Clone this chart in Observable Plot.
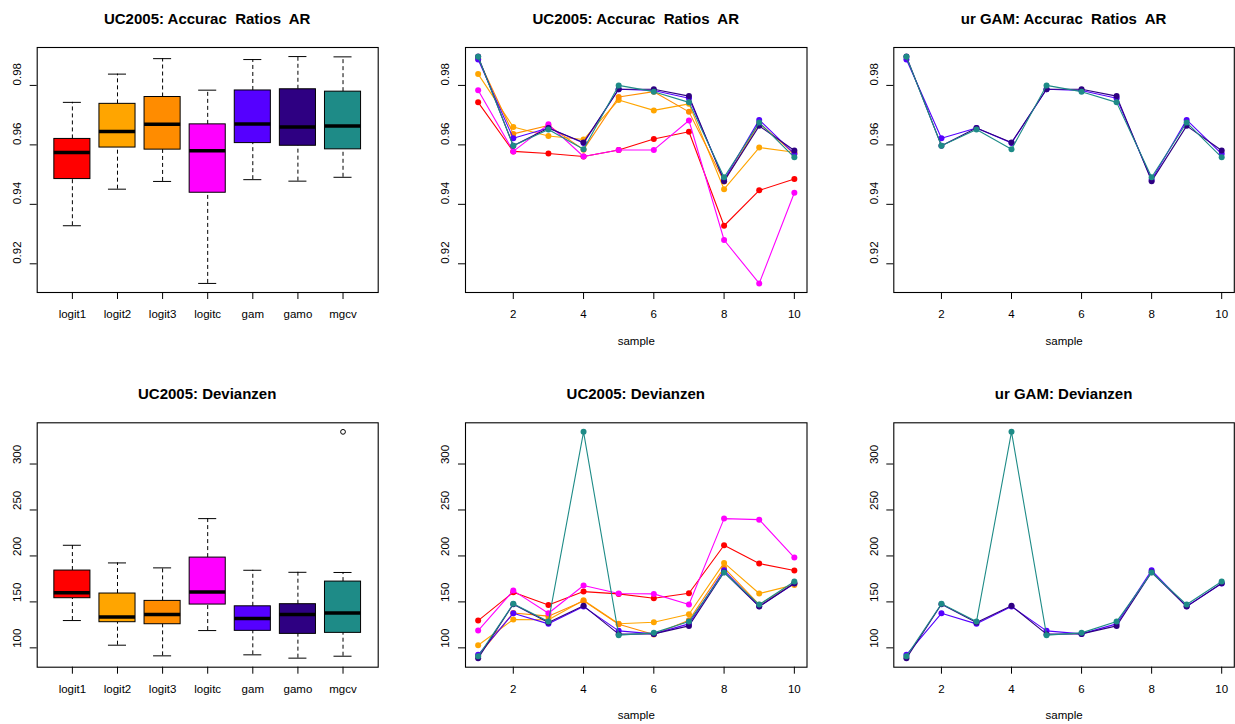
<!DOCTYPE html>
<html>
<head>
<meta charset="utf-8">
<script src="https://cdn.jsdelivr.net/npm/d3@7"></script>
<script src="https://cdn.jsdelivr.net/npm/@observablehq/plot@0.6"></script>
<style>
  body { margin: 0; background: #fff; }
  #wrap { position: relative; width: 1235px; height: 724px; overflow: hidden; background: #fff;
          font-family: "Liberation Sans", Arial, Helvetica, sans-serif; }
  .panel { position: absolute; }
  .title { position: absolute; font-weight: bold; font-size: 15px; white-space: pre; line-height: 18px;
           color: #000; transform: translateX(-50%); }
</style>
</head>
<body>
<div id="wrap"></div>
<script>
// ---------------- data ----------------
const models = ["logit1", "logit2", "logit3", "logitc", "gam", "gamo", "mgcv"];
const modelColors = ["#FF0000", "#FFA500", "#FF8C00", "#FF00FF", "#5500FF", "#2E0082", "#1E8B87"];
const samples = [1, 2, 3, 4, 5, 6, 7, 8, 9, 10];

// Accuracy ratios AR per sample
const arLogit1 = [0.9743, 0.9578, 0.9571, 0.9561, 0.9583, 0.9620, 0.9644, 0.9328, 0.9447, 0.9485];
const arLogit2 = [0.9838, 0.9660, 0.9630, 0.9618, 0.9751, 0.9716, 0.9738, 0.9451, 0.9591, 0.9575];
const arLogit3 = [0.9890, 0.9637, 0.9665, 0.9584, 0.9761, 0.9779, 0.9711, 0.9477, 0.9673, 0.9570];
const arLogitc = [0.9784, 0.9578, 0.9669, 0.9561, 0.9583, 0.9583, 0.9682, 0.9280, 0.9134, 0.9439];
const arGam    = [0.9887, 0.9622, 0.9657, 0.9606, 0.9787, 0.9783, 0.9757, 0.9483, 0.9684, 0.9570];
const arGamo   = [0.9897, 0.9597, 0.9657, 0.9608, 0.9787, 0.9787, 0.9764, 0.9478, 0.9664, 0.9581];
const arMgcv   = [0.9896, 0.9597, 0.9652, 0.9585, 0.9800, 0.9779, 0.9743, 0.9491, 0.9675, 0.9558];

// Devianzen per sample
const devLogit1 = [129.7, 160.5, 146.7, 161.2, 158.7, 154.0, 159.4, 211.6, 191.7, 184.1];
const devLogit2 = [102.9, 130.8, 130.5, 151.8, 126.3, 127.9, 136.6, 192.4, 159.1, 168.5];
const devLogit3 = [91.3, 138.0, 134.5, 151.1, 125.7, 114.5, 130.0, 187.0, 147.0, 170.0];
const devLogitc = [118.8, 162.3, 137.7, 167.8, 159.1, 158.7, 147.1, 240.6, 239.5, 198.2];
const devGam    = [92.4, 137.6, 126.1, 144.9, 118.5, 115.2, 126.1, 184.4, 145.2, 170.0];
const devGamo   = [88.8, 147.5, 127.5, 145.7, 114.9, 115.2, 123.9, 182.2, 144.9, 170.3];
const devMgcv   = [90.9, 148.0, 128.6, 335.0, 113.8, 116.3, 128.6, 182.0, 147.1, 172.1];

const arTicks = [0.92, 0.94, 0.96, 0.98];
const devTicks = [100, 150, 200, 250, 300];
const sampleTicks = [2, 4, 6, 8, 10];

const titles = [
  ["UC2005: Accurac  Ratios  AR", "UC2005: Accurac  Ratios  AR", "ur GAM: Accurac  Ratios  AR"],
  ["UC2005: Devianzen", "UC2005: Devianzen", "ur GAM: Devianzen"]
];
const xLabel = "sample";

// ---------------- helpers ----------------
const arSeries = [arLogit1, arLogit2, arLogit3, arLogitc, arGam, arGamo, arMgcv];
const devSeries = [devLogit1, devLogit2, devLogit3, devLogitc, devGam, devGamo, devMgcv];

function rows(series) {
  const out = [];
  series.forEach((vals, m) => vals.forEach((v, i) => out.push({model: models[m], sample: samples[i], value: v})));
  return out;
}
function fivenum(v) {
  const x = [...v].sort((a, b) => a - b), n = x.length;
  const n4 = Math.floor((n + 3) / 2) / 2;
  return [1, n4, (n + 1) / 2, n + 1 - n4, n].map(k => 0.5 * (x[Math.floor(k) - 1] + x[Math.ceil(k) - 1]));
}
function boxStats(series) {
  return series.map((vals, m) => {
    const f = fivenum(vals), iqr = f[3] - f[1];
    const lo = f[1] - 1.5 * iqr, hi = f[3] + 1.5 * iqr;
    const inside = vals.filter(v => v >= lo && v <= hi);
    return {
      i: m + 1, model: models[m], color: modelColors[m],
      q1: f[1], med: f[2], q3: f[3],
      wlo: d3.min(inside), whi: d3.max(inside),
      out: vals.filter(v => v < lo || v > hi)
    };
  });
}
function rpad([a, b]) { const p = 0.04 * (b - a); return [a - p, b + p]; }

const fontFamily = '"Liberation Sans", Arial, Helvetica, sans-serif';
const cols = [
  {left: 0,   width: 412, mL: 36.7, mR: 34.3},
  {left: 412, width: 411, mL: 53,   mR: 16.5},
  {left: 823, width: 412, mL: 70.3, mR: 1.2}
];
const rowsGeo = [
  {top: 0,   height: 362, mT: 47,   mB: 70},
  {top: 362, height: 362, mT: 60.3, mB: 57.3}
];

const wrap = document.getElementById("wrap");

function panel(r, c, {xDomain, yDomain, xTicks, xFormat, yTicks, yFormat, marks, withXLabel}) {
  const col = cols[c], row = rowsGeo[r];
  const chart = Plot.plot({
    width: col.width, height: row.height,
    marginLeft: col.mL, marginRight: col.mR, marginTop: row.mT, marginBottom: row.mB,
    x: {type: "linear", domain: xDomain},
    y: {type: "linear", domain: yDomain},
    style: {fontFamily, fontSize: "11.5px", background: "transparent", color: "#000", overflow: "visible"},
    marks: [
      ...marks,
      Plot.frame({stroke: "#000", strokeWidth: 1.1}),
      Plot.axisX({ticks: xTicks, tickFormat: xFormat, tickSize: 7, tickPadding: 10.5, label: null, anchor: "bottom", stroke: "#000", fill: "#000"}),
      Plot.axisY({ticks: yTicks, tickFormat: () => "", tickSize: 7, label: null, anchor: "left", stroke: "#000"}),
      Plot.text(yTicks, {y: d => d, text: yFormat, frameAnchor: "left", dx: -19.7, rotate: -90, fill: "#000"}),
      withXLabel ? Plot.text([xLabel], {text: d => d, frameAnchor: "bottom", dy: 52, fill: "#000"}) : null
    ]
  });
  chart.classList.add("panel");
  chart.style.left = col.left + "px";
  chart.style.top = row.top + "px";
  wrap.appendChild(chart);
  const t = document.createElement("div");
  t.className = "title";
  t.textContent = titles[r][c];
  t.style.left = (col.left + col.mL + (col.width - col.mL - col.mR) / 2) + "px";
  t.style.top = (r === 0 ? 10 : 385) + "px";
  wrap.appendChild(t);
}

function boxMarks(stats) {
  const ms = [];
  ms.push(Plot.ruleX(stats, {x: "i", y1: "q3", y2: "whi", stroke: "#000", strokeDasharray: "4,3"}));
  ms.push(Plot.ruleX(stats, {x: "i", y1: "wlo", y2: "q1", stroke: "#000", strokeDasharray: "4,3"}));
  ms.push(Plot.ruleY(stats, {y: "whi", x1: d => d.i - 0.2, x2: d => d.i + 0.2, stroke: "#000"}));
  ms.push(Plot.ruleY(stats, {y: "wlo", x1: d => d.i - 0.2, x2: d => d.i + 0.2, stroke: "#000"}));
  ms.push(Plot.rect(stats, {x1: d => d.i - 0.4, x2: d => d.i + 0.4, y1: "q1", y2: "q3", fill: "color", stroke: "#000", strokeWidth: 1}));
  ms.push(Plot.ruleY(stats, {y: "med", x1: d => d.i - 0.4, x2: d => d.i + 0.4, stroke: "#000", strokeWidth: 3.5}));
  const outs = stats.flatMap(s => s.out.map(v => ({i: s.i, v})));
  ms.push(Plot.dot(outs, {x: "i", y: "v", r: 2.4, stroke: "#000", fill: "none", strokeWidth: 1}));
  return ms;
}
function lineMarks(data, which) {
  const ms = [];
  which.forEach(m => {
    const d = data.filter(r => r.model === models[m]);
    ms.push(Plot.line(d, {x: "sample", y: "value", stroke: modelColors[m], strokeWidth: 1.1}));
    ms.push(Plot.dot(d, {x: "sample", y: "value", fill: modelColors[m], r: 3}));
  });
  return ms;
}

const all = [0, 1, 2, 3, 4, 5, 6], gams = [4, 5, 6];
const boxX = rpad([0.5, models.length + 0.5]);
const lineX = rpad(d3.extent(samples));
const arY = rpad(d3.extent(arSeries.flat()));
const devY = rpad(d3.extent(devSeries.flat()));
const arRows = rows(arSeries), devRows = rows(devSeries);
const fmtAR = d3.format(".2f"), fmtDev = d3.format("d");
const catFmt = i => models[i - 1];
const boxTicks = models.map((_, i) => i + 1);

panel(0, 0, {xDomain: boxX, yDomain: arY, xTicks: boxTicks, xFormat: catFmt, yTicks: arTicks, yFormat: fmtAR, marks: boxMarks(boxStats(arSeries))});
panel(0, 1, {xDomain: lineX, yDomain: arY, xTicks: sampleTicks, xFormat: fmtDev, yTicks: arTicks, yFormat: fmtAR, marks: lineMarks(arRows, all), withXLabel: true});
panel(0, 2, {xDomain: lineX, yDomain: arY, xTicks: sampleTicks, xFormat: fmtDev, yTicks: arTicks, yFormat: fmtAR, marks: lineMarks(arRows, gams), withXLabel: true});
panel(1, 0, {xDomain: boxX, yDomain: devY, xTicks: boxTicks, xFormat: catFmt, yTicks: devTicks, yFormat: fmtDev, marks: boxMarks(boxStats(devSeries))});
panel(1, 1, {xDomain: lineX, yDomain: devY, xTicks: sampleTicks, xFormat: fmtDev, yTicks: devTicks, yFormat: fmtDev, marks: lineMarks(devRows, all), withXLabel: true});
panel(1, 2, {xDomain: lineX, yDomain: devY, xTicks: sampleTicks, xFormat: fmtDev, yTicks: devTicks, yFormat: fmtDev, marks: lineMarks(devRows, gams), withXLabel: true});
</script>
</body>
</html>
